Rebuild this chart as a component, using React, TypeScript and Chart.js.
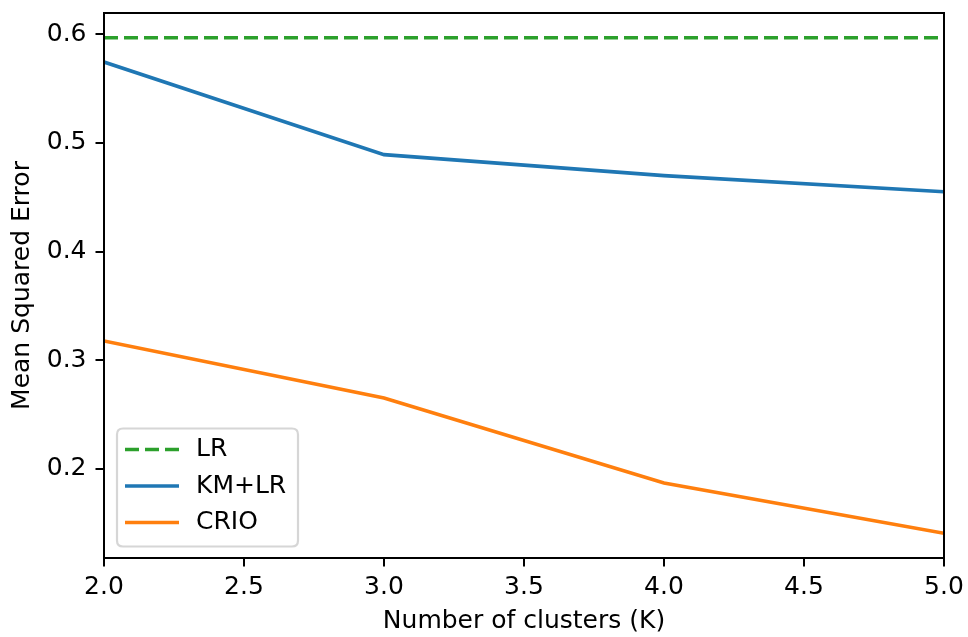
import React, { useEffect, useRef } from "react";
import { Chart, registerables } from "chart.js";

Chart.register(...registerables);

const clusters = [2, 3, 4, 5];
const lrValues = [0.5966, 0.5966, 0.5966, 0.5966];
const kmlrValues = [0.5743, 0.4891, 0.4698, 0.455];
const crioValues = [0.3177, 0.2652, 0.1871, 0.1409];
const xTicks = [2.0, 2.5, 3.0, 3.5, 4.0, 4.5, 5.0];
const yTicks = [0.2, 0.3, 0.4, 0.5, 0.6];
const seriesLabels = ["LR", "KM+LR", "CRIO"];
const xTitle = "Number of clusters (K)";
const yTitle = "Mean Squared Error";

const FONT = "'DejaVu Sans', sans-serif";
const FS = 25;
const GREEN = "#2ca02c";
const BLUE = "#1f77b4";
const ORANGE = "#ff7f0e";

const framePlugin = {
  id: "frameAndLegend",
  afterDatasetsDraw(chart: any) {
    const { ctx, chartArea } = chart;
    const { left, top, right, bottom } = chartArea;
    ctx.save();
    ctx.strokeStyle = "#000";
    ctx.lineWidth = 2;
    ctx.setLineDash([]);
    ctx.strokeRect(left, top, right - left, bottom - top);

    // legend
    const bx = 117;
    const by = 428.5;
    const bw = 181;
    const bh = 118;
    const r = 6;
    ctx.beginPath();
    ctx.moveTo(bx + r, by);
    ctx.lineTo(bx + bw - r, by);
    ctx.quadraticCurveTo(bx + bw, by, bx + bw, by + r);
    ctx.lineTo(bx + bw, by + bh - r);
    ctx.quadraticCurveTo(bx + bw, by + bh, bx + bw - r, by + bh);
    ctx.lineTo(bx + r, by + bh);
    ctx.quadraticCurveTo(bx, by + bh, bx, by + bh - r);
    ctx.lineTo(bx, by + r);
    ctx.quadraticCurveTo(bx, by, bx + r, by);
    ctx.closePath();
    ctx.fillStyle = "rgba(255,255,255,0.8)";
    ctx.fill();
    ctx.strokeStyle = "#d6d6d6";
    ctx.lineWidth = 2.2;
    ctx.stroke();

    const rows = [449.5, 486, 522.5];
    chart.data.datasets.forEach((ds: any, i: number) => {
      const y = rows[i];
      ctx.beginPath();
      ctx.strokeStyle = ds.borderColor;
      ctx.lineWidth = 3.6;
      ctx.lineCap = "butt";
      ctx.setLineDash(ds.borderDash || []);
      ctx.moveTo(125, y);
      ctx.lineTo(179, y);
      ctx.stroke();
      ctx.setLineDash([]);
      ctx.fillStyle = "#000";
      ctx.font = `${FS}px ${FONT}`;
      ctx.textBaseline = "middle";
      ctx.textAlign = "left";
      ctx.fillText(ds.label, 196, y);
    });
    ctx.restore();
  },
};

export default function App() {
  const ref = useRef<HTMLCanvasElement | null>(null);
  useEffect(() => {
    document.body.style.margin = "0";
    if (!ref.current) return;
    const chart = new Chart(ref.current, {
      type: "line",
      data: {
        datasets: [
          {
            label: seriesLabels[0],
            data: clusters.map((x, i) => ({ x, y: lrValues[i] })),
            borderColor: GREEN,
            borderWidth: 3.6,
            borderDash: [14, 6],
            borderCapStyle: "butt",
            pointRadius: 0,
            fill: false,
          },
          {
            label: seriesLabels[1],
            data: clusters.map((x, i) => ({ x, y: kmlrValues[i] })),
            borderColor: BLUE,
            borderWidth: 3.6,
            pointRadius: 0,
            fill: false,
          },
          {
            label: seriesLabels[2],
            data: clusters.map((x, i) => ({ x, y: crioValues[i] })),
            borderColor: ORANGE,
            borderWidth: 3.6,
            pointRadius: 0,
            fill: false,
          },
        ],
      },
      options: {
        responsive: false,
        animation: false,
        devicePixelRatio: 1,
        layout: { padding: { top: 13, right: 24, left: 0, bottom: 0 } },
        plugins: {
          legend: { display: false },
          tooltip: { enabled: false },
        },
        scales: {
          x: {
            type: "linear",
            min: 2,
            max: 5,
            afterFit: (s: any) => {
              s.height = 79;
              s.paddingLeft = 0;
              s.paddingRight = 0;
            },
            afterBuildTicks: (s: any) => {
              s.ticks = xTicks.map((v) => ({ value: v }));
            },
            ticks: {
              color: "#000",
              font: { family: FONT, size: FS },
              padding: 6,
              maxRotation: 0,
              autoSkip: false,
              callback: (v: any) => Number(v).toFixed(1),
            },
            grid: {
              drawOnChartArea: false,
              drawTicks: true,
              tickLength: 8.5,
              color: "#000",
              lineWidth: 2,
            },
            border: { display: false },
            title: {
              display: true,
              text: xTitle,
              color: "#000",
              font: { family: FONT, size: FS },
              padding: { top: 0, bottom: 1 },
            },
          },
          y: {
            type: "linear",
            min: 0.1181,
            max: 0.6194,
            afterFit: (s: any) => {
              s.width = 104;
              s.paddingTop = 0;
              s.paddingBottom = 0;
            },
            afterBuildTicks: (s: any) => {
              s.ticks = yTicks.map((v) => ({ value: v }));
            },
            ticks: {
              color: "#000",
              font: { family: FONT, size: FS },
              padding: 9,
              autoSkip: false,
              callback: (v: any) => Number(v).toFixed(1),
            },
            grid: {
              drawOnChartArea: false,
              drawTicks: true,
              tickLength: 8.5,
              color: "#000",
              lineWidth: 2,
            },
            border: { display: false },
            title: {
              display: true,
              text: yTitle,
              color: "#000",
              font: { family: FONT, size: FS },
              padding: { top: 7.5, bottom: 0 },
            },
          },
        },
      } as any,
      plugins: [framePlugin],
    });
    return () => chart.destroy();
  }, []);
  return (
    <div style={{ position: "absolute", left: 0, top: 0, width: 968, height: 637, background: "#fff" }}>
      <canvas ref={ref} width={968} height={637} style={{ width: 968, height: 637 }} />
    </div>
  );
}
